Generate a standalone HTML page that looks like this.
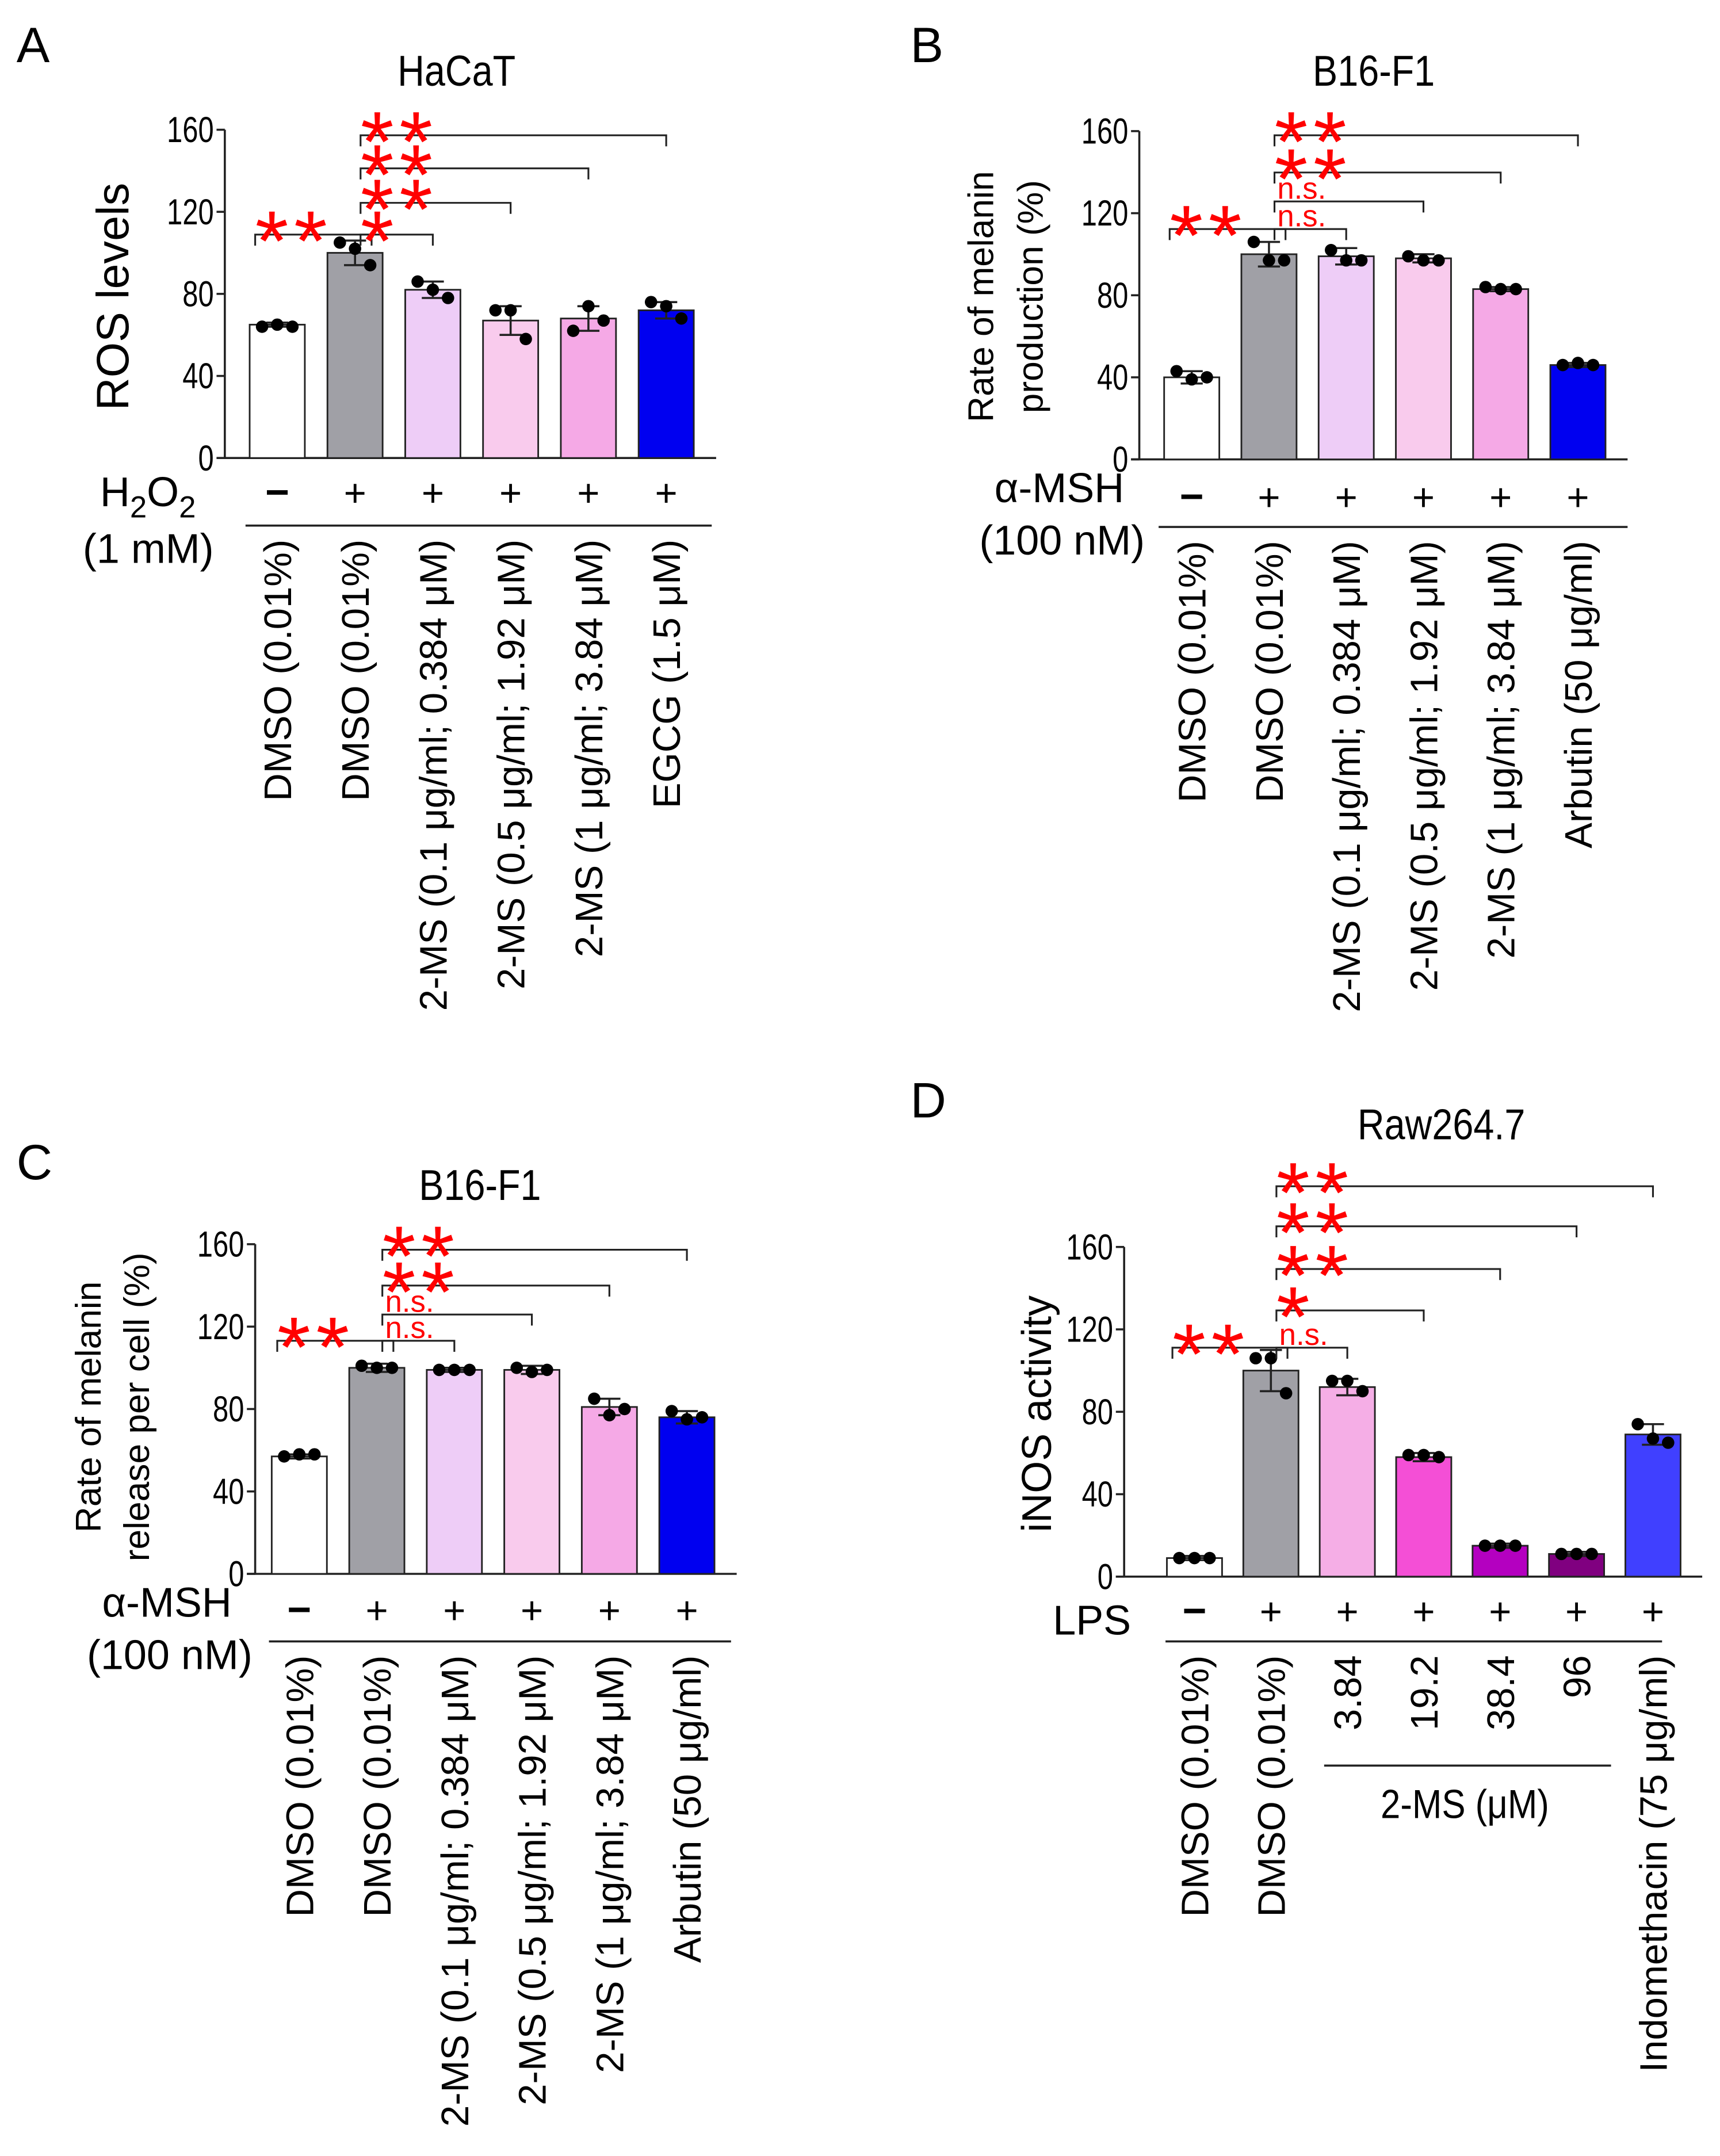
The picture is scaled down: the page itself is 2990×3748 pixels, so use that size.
<!DOCTYPE html>
<html><head><meta charset="utf-8">
<style>
html,body{margin:0;padding:0;background:#fff;}
svg{display:block;}
text{font-family:"Liberation Sans",sans-serif;}
</style></head>
<body>
<svg id="fig" width="2990" height="3748" viewBox="0 0 1247 1563" xmlns="http://www.w3.org/2000/svg"></svg>
<script>
// ---- Panel A data (HaCaT ROS) ----
const aLabels = ["DMSO (0.01%)","DMSO (0.01%)","2-MS (0.1 μg/ml; 0.384 μM)","2-MS (0.5 μg/ml; 1.92 μM)","2-MS (1 μg/ml; 3.84 μM)","EGCG (1.5 μM)"];
const aMeans = [65,100,82,67,68,72];
const aSD = [1,6,4,7,6,4];
const aDots = [[64,65,64],[105,102,94],[86,82,78],[72,72,58],[62,74,67],[76,74,68]];
const aSigns = ["−","+","+","+","+","+"];
const aSig = ["**","*","**","**","**"];
// ---- Panel B data (B16-F1 melanin production) ----
const bLabels = ["DMSO (0.01%)","DMSO (0.01%)","2-MS (0.1 μg/ml; 0.384 μM)","2-MS (0.5 μg/ml; 1.92 μM)","2-MS (1 μg/ml; 3.84 μM)","Arbutin (50 μg/ml)"];
const bMeans = [40,100,99,98,83,46];
const bSD = [3,6,4,2,1,1];
const bDots = [[43,39,40],[106,97,97],[102,97,97],[99,97,97],[84,83,83],[46,47,46]];
const bSigns = ["−","+","+","+","+","+"];
const bSig = ["**","n.s.","n.s.","**","**"];
// ---- Panel C data (B16-F1 melanin release) ----
const cLabels = bLabels;
const cMeans = [57,100,99,99,81,76];
const cSD = [1,2,1,2,4,3];
const cDots = [[57,58,58],[101,100,100],[99,99,99],[100,98,99],[85,77,80],[79,75,76]];
const cSigns = ["−","+","+","+","+","+"];
const cSig = ["**","n.s.","n.s.","**","**"];
// ---- Panel D data (Raw264.7 iNOS) ----
const dLabels = ["DMSO (0.01%)","DMSO (0.01%)","3.84","19.2","38.4","96","Indomethacin (75 μg/ml)"];
const dMeans = [9,100,92,58,15,11,69];
const dSD = [1,10,4,2,1,1,5];
const dDots = [[9,9,9],[106,106,89],[95,95,90],[59,59,58],[15,15,15],[11,11,11],[74,67,65]];
const dSigns = ["−","+","+","+","+","+","+"];
const dSig = ["**","n.s.","*","**","**","**"];
const yTicks = [0,40,80,120,160];

const NS="http://www.w3.org/2000/svg";
const svg=document.getElementById('fig');
function mk(tag,attrs,parent,txt){const e=document.createElementNS(NS,tag);for(const k in attrs)e.setAttribute(k,attrs[k]);if(txt!==undefined)e.textContent=txt;(parent||svg).appendChild(e);return e;}

function panel(cfg){
  const g=mk('g',{});
  
  
  const x0=cfg.axisX, y0=cfg.y0, yTop=cfg.y160;
  const ys=v=>y0-(v/160)*(y0-yTop);
  const xs=i=>cfg.first+i*cfg.step;
  const L=mk('text',{x:cfg.letterX,y:cfg.letterY,'font-size':36},g,cfg.letter);
  
  const T=mk('text',{transform:`translate(${cfg.titleX},${cfg.titleY}) scale(0.9,1.05)`,'font-size':30,'text-anchor':'middle'},g,cfg.title);
  
  cfg.ylab.forEach((s,k)=>{
    const t=mk('text',{transform:`translate(${cfg.ylabX[k]},${cfg.ylabY}) rotate(-90)`,'font-size':cfg.ylabSize,'text-anchor':'middle'},g,s);
    
  });
  const n=cfg.means.length;
  const ya=mk('line',{x1:x0,y1:yTop,x2:x0,y2:y0,stroke:'#222','stroke-width':1.5},g);
  
  const xa=mk('line',{x1:x0-6,y1:y0,x2:xs(n-1)+cfg.step*0.5+8,y2:y0,stroke:'#222','stroke-width':1.5},g);
  
  yTicks.forEach(v=>{
    mk('line',{x1:x0-6,y1:ys(v),x2:x0,y2:ys(v),stroke:'#222','stroke-width':1.5},g);
    const t=mk('text',{transform:`translate(${x0-8},${ys(v)+9}) scale(0.85,1.1)`,'font-size':24,'text-anchor':'end'},g,String(v));
    
  });
  const bw=40;
  cfg.means.forEach((m,i)=>{
    const r=mk('rect',{x:xs(i)-bw/2,y:ys(m),width:bw,height:y0-ys(m),fill:cfg.colors[i],stroke:'#222','stroke-width':1.2},g);
    
    const sd=cfg.sd[i];
    mk('line',{x1:xs(i),y1:ys(m+sd),x2:xs(i),y2:ys(m-sd),stroke:'#222','stroke-width':1.5},g);
    mk('line',{x1:xs(i)-8,y1:ys(m+sd),x2:xs(i)+8,y2:ys(m+sd),stroke:'#222','stroke-width':1.5},g);
    mk('line',{x1:xs(i)-8,y1:ys(m-sd),x2:xs(i)+8,y2:ys(m-sd),stroke:'#222','stroke-width':1.5},g);
    cfg.dots[i].forEach((d,j)=>{
      const c=mk('circle',{cx:xs(i)+(j-1)*11,cy:ys(d),r:4.5,fill:'#000'},g);
      
    });
  });
  cfg.sig.forEach((s,k)=>{
    const b=k===0?1:k+1;
    const yb=cfg.brY[k];
    const xl=k===0?xs(0)-16:xs(1)+4, xr=k===0?xs(1)+12:xs(b);
    const p=mk('path',{d:`M${xl},${yb+8}V${yb}H${xr}V${yb+8}`,fill:'none',stroke:'#222','stroke-width':1.3},g);
    
    const ns=s==='n.s.';
    const t=mk('text',{x:xl+(ns?2:0),y:ns?yb-2:yb+26,'font-size':ns?22:62,fill:'#f00','letter-spacing':ns?0:4},g,s);
    
  });
  cfg.treat.forEach(tt=>{
    const t=mk('text',{x:tt[1],y:tt[2],'font-size':30,'text-anchor':'end'},g);
    
    if(tt[0]==='H2O2'){mk('tspan',{},t,'H');mk('tspan',{dy:8,'font-size':22},t,'2');mk('tspan',{dy:-8},t,'O');mk('tspan',{dy:8,'font-size':22},t,'2');}
    else t.textContent=tt[0];
  });
  cfg.signs.forEach((s,i)=>{
    const t=mk('text',{x:xs(i),y:cfg.signY,'font-size':s==='−'?30:28,'font-weight':s==='−'?'bold':'normal','text-anchor':'middle'},g,s);
    
  });
  mk('line',{x1:cfg.lineX1,y1:cfg.lineY,x2:cfg.lineX2,y2:cfg.lineY,stroke:'#222','stroke-width':1.5},g);
  cfg.labels.forEach((s,i)=>{
    const t=mk('text',{transform:`translate(${xs(i)+10},${cfg.lineY+10}) rotate(-90)`,'font-size':28,'text-anchor':'end'},g,s);
    
  });
  return g;
}

panel({name:'panel-a',letter:'A',letterX:12,letterY:45,title:'HaCaT',titleX:331,titleY:62,
  ylab:['ROS levels'],ylabX:[93],ylabY:215,ylabSize:33,
  axisX:163,y0:332,y160:94,first:201,step:56.4,
  means:aMeans,sd:aSD,dots:aDots,sig:aSig,signs:aSigns,labels:aLabels,
  colors:['#ffffff','#a0a0a6','#eecdf7','#f9cbed','#f5a9e6','#0000f0'],
  brY:[170,170,147,122,98],treat:[['H2O2',142,367],['(1 mM)',155,408]],signY:367,lineX1:178,lineX2:516,lineY:381});

panel({name:'panel-b',letter:'B',letterX:660,letterY:45,title:'B16-F1',titleX:996,titleY:62,
  ylab:['Rate of melanin','production (%)'],ylabX:[720,756],ylabY:215,ylabSize:26,
  axisX:826,y0:333,y160:95,first:864,step:56,
  means:bMeans,sd:bSD,dots:bDots,sig:bSig,signs:bSigns,labels:bLabels,
  colors:['#ffffff','#a0a0a6','#eecdf7','#f9cbed','#f5a9e6','#0000f0'],
  brY:[166,166,146,125,98],treat:[['α-MSH',815,364],['(100 nM)',830,402]],signY:370,lineX1:840,lineX2:1180,lineY:382});

panel({name:'panel-c',letter:'C',letterX:12,letterY:855,title:'B16-F1',titleX:348,titleY:870,
  ylab:['Rate of melanin','release per cell (%)'],ylabX:[73,108],ylabY:1020,ylabSize:26,
  axisX:185,y0:1141,y160:902,first:217,step:56.2,
  means:cMeans,sd:cSD,dots:cDots,sig:cSig,signs:cSigns,labels:cLabels,
  colors:['#ffffff','#a0a0a6','#eecdf7','#f9cbed','#f5a9e6','#0000f0'],
  brY:[972,972,953,932,906],treat:[['α-MSH',168,1172],['(100 nM)',183,1210]],signY:1177,lineX1:195,lineX2:530,lineY:1190});

panel({name:'panel-d',letter:'D',letterX:660,letterY:810,title:'Raw264.7',titleX:1045,titleY:826,
  ylab:['iNOS activity'],ylabX:[762],ylabY:1025,ylabSize:30,
  axisX:815,y0:1143,y160:904,first:866,step:55.4,
  means:dMeans,sd:dSD,dots:dDots,sig:dSig,signs:dSigns,labels:dLabels,
  colors:['#ffffff','#a0a0a6','#f5aee6','#f44fd6','#b400c0','#800080','#4040ff'],
  brY:[977,977,950,920,889,860],treat:[['LPS',820,1185]],signY:1178,lineX1:845,lineX2:1205,lineY:1190});
const gl=mk('line',{x1:960,y1:1280,x2:1168,y2:1280,stroke:'#222','stroke-width':1.5});

const gt=mk('text',{transform:'translate(1062,1318) scale(0.92,1.05)','font-size':28,'text-anchor':'middle'},svg,'2-MS (μM)');

</script>
</body></html>
